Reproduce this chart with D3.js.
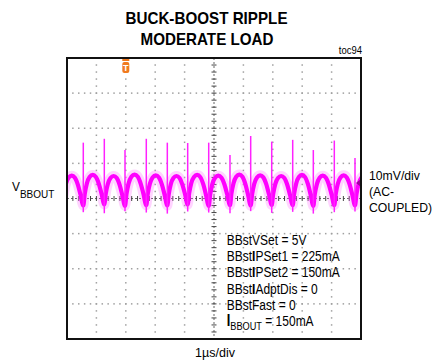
<!DOCTYPE html>
<html><head><meta charset="utf-8">
<script src="https://cdn.jsdelivr.net/npm/d3@7"></script>
<style>
body{margin:0;background:#fff}
svg{display:block;font-family:"Liberation Sans",Arial,sans-serif}
</style>
</head><body>
<svg id="c" width="445" height="363"></svg>
<script>
// ---------------- data ----------------
const titleLines = ["BUCK-BOOST RIPPLE", "MODERATE LOAD"];
const figureId = "toc94";
const xDivisions = 10;          // 1 µs/div
const yDivisions = 8;           // 10 mV/div
const timeLabel = "1µs/div";
const voltLabel = ["10mV/div", "(AC-", "COUPLED)"];
const traceName = "V";
const traceSub = "BBOUT";
// ripple troughs (µs) — first and last are just off-screen
const troughTimes  = [-0.16, 0.554, 1.269, 1.973, 2.697, 3.412, 4.105, 4.82, 5.544, 6.248, 6.963, 7.677, 8.378, 9.092, 9.796, 10.51];
const troughLevels = [-1.8, -2.0, -1.7, -2.1, -1.9, -2.0, -1.7, -2.1, -1.9, -2.0, -1.8, -1.9, -2.1, -1.9, -2.0, -1.9]; // mV
const peakLevels   = [6.5, 6.7, 6.4, 6.8, 6.6, 6.4, 6.7, 6.5, 6.8, 6.6, 6.4, 6.7, 6.5, 6.6, 6.5];                        // mV, one per period
// normalised shape of one ripple period (fraction of period, fraction of trough→peak)
const rippleShapeT = [0, 0.07, 0.17, 0.3, 0.45, 0.6, 0.74, 0.87, 1];
const rippleShapeV = [0, 0.38, 0.72, 0.93, 1, 0.93, 0.7, 0.36, 0];
// switching spikes
const spikeTimes   = [0.554, 1.269, 1.973, 2.697, 3.412, 4.105, 4.82, 5.544, 6.248, 6.963, 7.677, 8.378, 9.092, 9.796];
const spikeTops    = [15.9, 17.0, 13.8, 17.0, 15.9, 15.8, 15.9, 12.4, 17.8, 16.2, 16.7, 13.8, 16.5, 11.5];
const spikeBottoms = [-3.9, -4.2, -3.6, -4.0, -4.3, -3.7, -4.0, -4.2, -3.6, -4.1, -3.8, -4.3, -3.9, -3.7];
const triggerTime = 2;          // µs from left edge
const groundMarkerMv = 4.4;
const settingNames  = ["BBstVSet", "BBstIPSet1", "BBstIPSet2", "BBstIAdptDis", "BBstFast"];
const settingValues = ["5V", "225mA", "150mA", "0", "0"];
const loadName = "I", loadSub = "BBOUT", loadValue = "150mA";

// ---------------- layout ----------------
const svg = d3.select("#c");
const L = 67, R = 361, T = 58, B = 339;
const x = d3.scaleLinear().domain([0, xDivisions]).range([L, R]);
const y = d3.scaleLinear().domain([-yDivisions / 2 * 10, yDivisions / 2 * 10]).range([B, T]);

// ---------------- grid ----------------
const grid = svg.append("g");
const xMinor = d3.range(0, xDivisions * 5 + 1).map(i => i / 5);
const yMinor = d3.range(0, yDivisions * 5 + 1).map(i => -40 + i * 2);
const xMajor = d3.range(0, xDivisions + 1);
const yMajor = d3.range(-40, 41, 10);
xMajor.filter(t => t !== 5).forEach(t => {
  grid.selectAll(null).data(yMinor).join("rect")
    .attr("x", x(t) - 0.75).attr("y", d => y(d) - 0.75)
    .attr("width", 1.5).attr("height", 1.5).attr("fill", "#a0a0a0");
});
yMajor.filter(v => v !== 0).forEach(v => {
  grid.selectAll(null).data(xMinor).join("rect")
    .attr("x", d => x(d) - 0.75).attr("y", y(v) - 0.75)
    .attr("width", 1.5).attr("height", 1.5).attr("fill", "#a0a0a0");
});
grid.append("line").attr("x1", x(5)).attr("x2", x(5)).attr("y1", T).attr("y2", B)
  .attr("stroke", "#666").attr("stroke-width", 1).attr("stroke-dasharray", "2,2");
grid.append("line").attr("x1", L).attr("x2", R).attr("y1", y(0)).attr("y2", y(0))
  .attr("stroke", "#666").attr("stroke-width", 1).attr("stroke-dasharray", "2,2");
grid.selectAll(null).data(yMinor).join("line")
  .attr("x1", x(5) - 2.5).attr("x2", x(5) + 2.5).attr("y1", d => y(d)).attr("y2", d => y(d))
  .attr("stroke", "#444").attr("stroke-width", 1);
grid.selectAll(null).data(xMinor).join("line")
  .attr("y1", y(0) - 2.5).attr("y2", y(0) + 2.5).attr("x1", d => x(d)).attr("x2", d => x(d))
  .attr("stroke", "#444").attr("stroke-width", 1);

// ---------------- trace ----------------
svg.append("clipPath").attr("id", "clip").append("rect")
  .attr("x", L).attr("y", T).attr("width", R - L).attr("height", B - T);
const pts = [];
for (let i = 0; i < troughTimes.length - 1; i++) {
  const t0 = troughTimes[i], t1 = troughTimes[i + 1];
  const v0 = troughLevels[i], v1 = troughLevels[i + 1], vp = peakLevels[i];
  rippleShapeT.forEach((f, k) => {
    if (k === rippleShapeT.length - 1 && i < troughTimes.length - 2) return;
    const base = k < 4 ? v0 : v1;
    pts.push([t0 + f * (t1 - t0), base + rippleShapeV[k] * (vp - base)]);
  });
}
const line = d3.line().x(d => x(d[0])).y(d => y(d[1])).curve(d3.curveMonotoneX);
const tr = svg.append("g").attr("clip-path", "url(#clip)");
tr.append("path").attr("d", line(pts)).attr("fill", "none")
  .attr("stroke", "#ff66ff").attr("stroke-width", 10).attr("stroke-opacity", 0.28).attr("stroke-linejoin", "round");
tr.append("path").attr("d", line(pts)).attr("fill", "none")
  .attr("stroke", "#ff00ff").attr("stroke-width", 4.2).attr("stroke-linejoin", "round");
tr.selectAll(null).data(spikeTimes).join("line")
  .attr("x1", d => x(d)).attr("x2", d => x(d))
  .attr("y1", (d, i) => y(spikeTops[i])).attr("y2", (d, i) => y(spikeBottoms[i]))
  .attr("stroke", "#ff22ff").attr("stroke-width", 1.5);

// ground marker
const gy = y(groundMarkerMv);
svg.append("path").attr("d", `M${R},${gy - 4}L${R - 5},${gy}L${R},${gy + 4}Z`).attr("fill", "#a000a0");

// trigger marker
const tx = x(triggerTime);
svg.append("rect").attr("x", tx - 3.5).attr("y", T).attr("width", 7).attr("height", 3).attr("fill", "#f07a1e");
svg.append("rect").attr("x", tx - 3.5).attr("y", T + 4).attr("width", 7).attr("height", 11).attr("rx", 2).attr("fill", "#f07a1e");
svg.append("text").attr("x", tx).attr("y", T + 13).attr("text-anchor", "middle")
  .attr("font-size", 9).attr("font-weight", "bold").attr("fill", "#fff").text("T");

// border
svg.append("rect").attr("x", L).attr("y", T).attr("width", R - L).attr("height", B - T)
  .attr("fill", "none").attr("stroke", "#111").attr("stroke-width", 2);

// ---------------- text ----------------
function txt(xp, yp, sx, size, weight, anchor) {
  return svg.append("text").attr("transform", `translate(${xp},${yp}) scale(${sx},1)`)
    .attr("font-size", size).attr("font-weight", weight || "normal")
    .attr("text-anchor", anchor || "start").attr("fill", "#000");
}
txt(206.5, 24, 0.95, 16, "bold", "middle").text(titleLines[0]);
txt(207, 45, 0.95, 16, "bold", "middle").text(titleLines[1]);
txt(362, 54, 0.95, 10, "normal", "end").text(figureId);
txt(215, 357, 1, 12.5, "normal", "middle").text(timeLabel);
voltLabel.forEach((s, i) => txt(369, 180 + i * 16, 0.94, 13, "normal", "start").text(s));
const vt = txt(12, 191, 0.95, 12.5, "normal", "start");
vt.append("tspan").text(traceName);
vt.append("tspan").attr("dy", 7).attr("font-size", 10.5).text(traceSub);

const rowY = d => 245 + d * 16.2;
settingNames.forEach((n, i) => {
  const t = txt(226.7, rowY(i), 0.8, 15, "normal", "start");
  const m = n.match(/^(BBst)(I?)(.*)$/);
  t.append("tspan").text(m[1]);
  if (m[2]) t.append("tspan").attr("font-weight", "bold").text(m[2]);
  t.append("tspan").text(m[3] + " = " + settingValues[i]);
});
const lt = txt(226.7, rowY(5), 0.8, 15, "normal", "start");
lt.append("tspan").attr("font-size", 16).attr("font-weight", "bold").text(loadName);
lt.append("tspan").attr("dy", 4).attr("font-size", 11.5).text(loadSub);
lt.append("tspan").attr("dy", -4).text(" = " + loadValue);
</script>
</body></html>
